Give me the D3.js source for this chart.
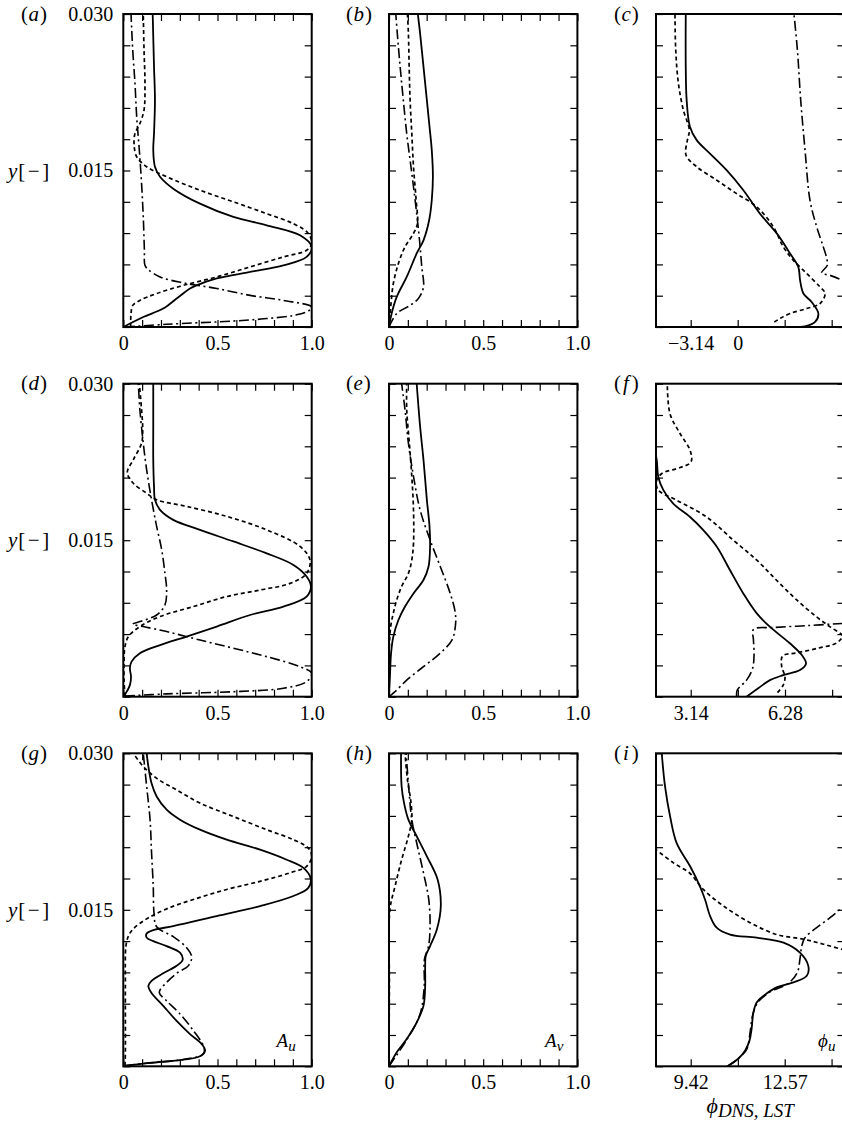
<!DOCTYPE html>
<html>
<head>
<meta charset="utf-8">
<script src="https://cdn.jsdelivr.net/npm/d3@7"></script>
<style>
  body { margin: 0; background: #fff; }
  svg text { font-family: "Liberation Serif", "Times New Roman", serif; fill: #000; }
</style>
</head>
<body>
<div id="chart"></div>
<script>
// profiles: [x, y]  (y in m, 0 .. 0.030)
// solid = DNS, dotted / dash-dot = LST variants

// (a)
const aSolid = [[0,0],[0.106,0.00096],[0.212,0.00177],[0.283,0.00273],[0.354,0.00369],[0.389,0.00399],[0.496,0.00465],[0.673,0.00528],[0.85,0.00591],[0.973,0.00672],[1.0,0.00768],[0.938,0.00879],[0.761,0.00975],[0.584,0.01056],[0.407,0.01182],[0.265,0.01326],[0.195,0.0144],[0.168,0.01536],[0.159,0.01695],[0.163,0.01854],[0.168,0.02175],[0.163,0.02496],[0.156,0.03]];
const aDotted = [[0.039,0],[0.041,0.00129],[0.05,0.00207],[0.088,0.00255],[0.177,0.00321],[0.319,0.00399],[0.496,0.0048],[0.673,0.00576],[0.85,0.00672],[0.973,0.00735],[1.0,0.00801],[0.982,0.00897],[0.903,0.0099],[0.761,0.01086],[0.584,0.012],[0.407,0.01311],[0.23,0.0144],[0.124,0.01536],[0.071,0.01632],[0.057,0.01758],[0.062,0.01854],[0.088,0.0195],[0.11,0.02079],[0.115,0.02334],[0.11,0.02655],[0.106,0.03]];
const aDashDot = [[0.009,0],[0.23,0.00026],[0.584,0.00057],[0.761,0.00081],[0.903,0.00111],[0.982,0.00153],[1.0,0.00192],[0.85,0.00255],[0.673,0.00303],[0.496,0.00369],[0.319,0.00423],[0.195,0.0048],[0.133,0.00549],[0.115,0.00591],[0.112,0.00735],[0.106,0.01056],[0.097,0.01374],[0.085,0.01695],[0.071,0.02016],[0.062,0.02334],[0.05,0.02655],[0.041,0.03]];

// (b)
const bSolid = [[0,0],[0.014,0.00129],[0.041,0.00288],[0.094,0.0048],[0.147,0.00705],[0.183,0.00831],[0.213,0.01023],[0.227,0.01215],[0.233,0.0144],[0.227,0.01695],[0.215,0.0192],[0.201,0.02175],[0.183,0.02496],[0.165,0.02814],[0.153,0.03]];
const bDotted = [[0,0],[0.009,0.00192],[0.023,0.00417],[0.05,0.00609],[0.085,0.00768],[0.13,0.00897],[0.151,0.0099],[0.144,0.01215],[0.13,0.01536],[0.121,0.01854],[0.112,0.02175],[0.107,0.02496],[0.103,0.02814],[0.098,0.03]];
const bDashDot = [[0,0],[0.041,0.00129],[0.112,0.00207],[0.156,0.00273],[0.183,0.00384],[0.174,0.00576],[0.162,0.00831],[0.147,0.01086],[0.13,0.01344],[0.112,0.01599],[0.094,0.01854],[0.076,0.02175],[0.059,0.02496],[0.044,0.02814],[0.036,0.03]];

// (c)
const cSolid = [[3.27,0],[4.5,0.00006],[5.17,0.00048],[5.39,0.00129],[4.94,0.0024],[4.39,0.00321],[4.17,0.00447],[4.05,0.00576],[3.5,0.00705],[2.61,0.00897],[1.49,0.01086],[0.38,0.01311],[-0.74,0.01503],[-1.85,0.01662],[-2.74,0.01791],[-3.19,0.0192],[-3.41,0.02175],[-3.47,0.02496],[-3.47,0.03]];
const cDotted = [[2.45,0.00048],[2.83,0.00081],[3.5,0.00129],[4.61,0.00177],[5.5,0.00225],[5.84,0.00321],[5.5,0.00384],[4.61,0.00513],[3.72,0.00639],[3.05,0.00768],[2.38,0.0096],[1.27,0.01152],[-0.07,0.01278],[-1.4,0.01407],[-2.74,0.01536],[-3.45,0.01647],[-3.36,0.01791],[-3.23,0.01887],[-3.63,0.02079],[-3.96,0.02334],[-4.14,0.02655],[-4.19,0.03]];
const cDashDot = [[7.95,0.00384],[7.1,0.00441],[6.17,0.00495],[5.61,0.00519],[5.99,0.00591],[5.95,0.00657],[5.72,0.00768],[5.28,0.0096],[4.83,0.01215],[4.5,0.01695],[4.21,0.02175],[3.99,0.02655],[3.76,0.03]];

// (d)
const dSolid = [[0.004,0.00006],[0.018,0.00048],[0.035,0.00111],[0.041,0.00192],[0.035,0.00273],[0.044,0.00336],[0.088,0.00417],[0.195,0.00495],[0.336,0.00576],[0.496,0.00672],[0.673,0.00783],[0.85,0.00864],[0.973,0.0096],[0.996,0.01056],[0.973,0.01152],[0.903,0.01263],[0.761,0.01374],[0.584,0.01488],[0.407,0.01599],[0.265,0.01695],[0.195,0.01791],[0.168,0.01887],[0.163,0.02016],[0.159,0.02271],[0.159,0.02592],[0.159,0.03]];
const dDotted = [[0.009,0.00006],[0.004,0.00159],[0.004,0.00351],[0.009,0.0048],[0.027,0.00576],[0.088,0.00672],[0.195,0.00768],[0.372,0.00864],[0.549,0.0096],[0.726,0.01023],[0.885,0.01086],[0.973,0.01182],[0.991,0.01311],[0.938,0.0144],[0.761,0.01599],[0.549,0.01728],[0.336,0.01824],[0.177,0.01887],[0.124,0.0195],[0.053,0.02046],[0.021,0.02148],[0.053,0.02271],[0.097,0.0243],[0.103,0.02559],[0.097,0.02751],[0.085,0.03]];
const dDashDot = [[0.009,0.00006],[0.23,0.00027],[0.584,0.00048],[0.85,0.00081],[0.973,0.00144],[1.0,0.00225],[0.938,0.00288],[0.761,0.00384],[0.584,0.00465],[0.407,0.00543],[0.23,0.00624],[0.106,0.00672],[0.05,0.00696],[0.088,0.0072],[0.177,0.00783],[0.221,0.00879],[0.23,0.01023],[0.221,0.01182],[0.204,0.01407],[0.177,0.01632],[0.15,0.01887],[0.124,0.02175],[0.106,0.0243],[0.088,0.02751],[0.08,0.03]];

// (e)
const eSolid = [[0,0],[0.005,0.00192],[0.011,0.00417],[0.023,0.00576],[0.05,0.00735],[0.085,0.00864],[0.13,0.0099],[0.183,0.01119],[0.21,0.01248],[0.218,0.0144],[0.215,0.01632],[0.201,0.01887],[0.183,0.02271],[0.165,0.02592],[0.147,0.03]];
const eDotted = [[0,0],[0.002,0.0048],[0.009,0.00672],[0.023,0.00801],[0.041,0.00927],[0.067,0.01056],[0.103,0.01182],[0.121,0.01311],[0.13,0.0147],[0.13,0.01791],[0.121,0.02112],[0.108,0.0243],[0.094,0.02751],[0.094,0.03]];
const eDashDot = [[0,0],[0.032,0.00048],[0.094,0.00159],[0.183,0.00288],[0.272,0.00417],[0.334,0.00543],[0.352,0.00672],[0.352,0.00801],[0.325,0.0099],[0.272,0.01248],[0.218,0.01503],[0.165,0.01791],[0.13,0.02112],[0.103,0.0243],[0.085,0.02751],[0.067,0.03]];

// (f)
const fSolid = [[5.0,0],[5.39,0.00081],[5.78,0.00159],[6.22,0.00207],[6.78,0.00255],[6.98,0.00318],[6.84,0.00399],[6.45,0.0051],[5.78,0.00669],[5.34,0.00798],[4.89,0.0099],[4.45,0.01212],[4.01,0.01437],[3.56,0.01596],[3.12,0.01722],[2.56,0.01851],[2.23,0.0198],[2.06,0.02106],[2.01,0.02265],[1.9,0.02427]];
const fDotted = [[6.03,0.00039],[6.22,0.00111],[6.28,0.00192],[6.17,0.00288],[6.2,0.0039],[6.67,0.0042],[7.33,0.00462],[8.0,0.00516],[8.19,0.00582],[7.78,0.00669],[7.33,0.00765],[6.67,0.00927],[6.0,0.01116],[5.34,0.01308],[4.56,0.015],[3.67,0.01722],[2.67,0.01884],[2.06,0.0198],[2.0,0.02067],[2.18,0.02139],[2.79,0.02196],[3.15,0.0225],[3.12,0.02361],[2.79,0.0252],[2.45,0.02712],[2.36,0.03]];
const fDashDot = [[4.67,0.00006],[4.69,0.00063],[5.0,0.00159],[5.2,0.0027],[5.25,0.00414],[5.23,0.00543],[5.23,0.00645],[5.89,0.00663],[7.0,0.00681],[8.19,0.00702],[8.67,0.00711]];

// (g)
const gSolid = [[0.009,0.00006],[0.142,0.00033],[0.319,0.00063],[0.407,0.00096],[0.434,0.0015],[0.416,0.00213],[0.354,0.00309],[0.283,0.00435],[0.212,0.00579],[0.15,0.00702],[0.133,0.00771],[0.15,0.00819],[0.212,0.00891],[0.283,0.00963],[0.315,0.0102],[0.301,0.01089],[0.23,0.01152],[0.159,0.012],[0.124,0.01233],[0.124,0.01272],[0.159,0.01305],[0.265,0.01344],[0.496,0.0144],[0.726,0.01536],[0.903,0.01632],[0.982,0.0171],[0.995,0.01797],[0.956,0.01902],[0.867,0.0198],[0.726,0.02076],[0.549,0.02172],[0.407,0.02268],[0.301,0.02364],[0.23,0.0246],[0.177,0.02586],[0.15,0.02712],[0.133,0.02874],[0.124,0.03]];
const gDotted = [[0.009,0.00006],[0.011,0.00135],[0.011,0.00771],[0.014,0.01152],[0.027,0.01248],[0.053,0.01317],[0.124,0.01413],[0.23,0.01509],[0.372,0.01599],[0.549,0.01695],[0.726,0.01773],[0.885,0.01854],[0.973,0.01917],[1.0,0.02013],[0.982,0.02091],[0.903,0.02172],[0.761,0.02268],[0.584,0.02394],[0.407,0.02523],[0.283,0.02649],[0.177,0.0276],[0.106,0.02874],[0.053,0.03]];
const gDashDot = [[0.009,0.00006],[0.142,0.00033],[0.319,0.00066],[0.425,0.00117],[0.428,0.00183],[0.372,0.00342],[0.301,0.00501],[0.23,0.00627],[0.191,0.00708],[0.23,0.00804],[0.283,0.00891],[0.345,0.00963],[0.363,0.0105],[0.336,0.01137],[0.265,0.01242],[0.177,0.01338],[0.163,0.0147],[0.159,0.01725],[0.15,0.02046],[0.142,0.02364],[0.124,0.02682],[0.106,0.03]];

// (h)
const hSolid = [[0,0],[0.041,0.00135],[0.094,0.00261],[0.147,0.0042],[0.183,0.00579],[0.192,0.00771],[0.192,0.00963],[0.195,0.01056],[0.218,0.01152],[0.254,0.01311],[0.275,0.01536],[0.258,0.01791],[0.201,0.02013],[0.147,0.02205],[0.103,0.02364],[0.08,0.02523],[0.067,0.02682],[0.064,0.03]];
const hDotted = [[0,0],[0.002,0.00771],[0.005,0.01503],[0.032,0.01725],[0.067,0.0198],[0.103,0.02205],[0.121,0.02364],[0.115,0.02553],[0.098,0.02745],[0.085,0.03]];
const hDashDot = [[0,0],[0.094,0.00255],[0.165,0.00501],[0.187,0.00771],[0.188,0.01026],[0.21,0.01152],[0.218,0.01344],[0.211,0.01599],[0.183,0.01854],[0.151,0.02109],[0.121,0.02364],[0.107,0.02619],[0.091,0.03]];

// (i)
const iSolid = [[10.65,0],[11.02,0.00075],[11.24,0.0015],[11.39,0.00246],[11.46,0.00357],[11.52,0.00516],[11.63,0.00612],[11.86,0.00675],[12.3,0.00756],[12.86,0.00804],[13.31,0.00867],[13.36,0.00963],[13.08,0.01089],[12.53,0.01185],[11.63,0.01233],[10.74,0.01263],[10.29,0.01329],[10.07,0.0144],[9.9,0.01599],[9.73,0.01725],[9.4,0.01917],[8.95,0.02139],[8.73,0.02394],[8.56,0.02682],[8.45,0.03]];
const iDotted = [[8.2,0.0209],[8.26,0.02076],[8.84,0.0195],[9.4,0.01848],[9.84,0.01695],[10.52,0.01536],[11.41,0.01377],[12.3,0.01263],[13.2,0.01218],[13.87,0.0117],[14.56,0.01116],[14.98,0.01089]];
const iDashDot = [[10.65,0],[11.02,0.00075],[11.3,0.00165],[11.41,0.00324],[11.49,0.00483],[11.67,0.00612],[12.08,0.00714],[12.69,0.00795],[12.99,0.00897],[13.08,0.01026],[13.14,0.01152],[13.25,0.01233],[13.64,0.01329],[14.09,0.01425],[14.56,0.01536],[14.98,0.01632]];

// axes
const yTicks = d3.range(0, 11).map(k => k * 0.003);
const yLabelValues = [0.015, 0.030];
const yLabels = ['0.015', '0.030'];
const ampTicks = d3.range(0, 11).map(k => k / 10);
const ampLabelValues = [0, 0.5, 1.0];
const ampLabels = ['0', '0.5', '1.0'];
const cTicks = [-3.14, 0, 3.14, 6.28];
const cTickLabels = ['\u22123.14', '0', '', ''];
const fTicks = [3.14, 4.71, 6.28, 7.85];
const fTickLabels = ['3.14', '', '6.28', ''];
const iTicks = [9.42, 11.0, 12.57, 14.14];
const iTickLabels = ['9.42', '', '12.57', ''];
const cDomain = [-5.458, 7.13];
const fDomain = [1.984, 8.258];
const iDomain = [8.257, 14.57];

const panelIds = ['a', 'b', 'c', 'd', 'e', 'f', 'g', 'h', 'i'];
const panelLines = [
  [aSolid, aDotted, aDashDot], [bSolid, bDotted, bDashDot], [cSolid, cDotted, cDashDot],
  [dSolid, dDotted, dDashDot], [eSolid, eDotted, eDashDot], [fSolid, fDotted, fDashDot],
  [gSolid, gDotted, gDashDot], [hSolid, hDotted, hDashDot], [iSolid, iDotted, iDashDot]
];
const phaseAxes = [
  { domain: cDomain, ticks: cTicks, labels: cTickLabels },
  { domain: fDomain, ticks: fTicks, labels: fTickLabels },
  { domain: iDomain, ticks: iTicks, labels: iTickLabels }
];
const tagNames = [['A', 'u'], ['A', 'v'], ['\u03d5', 'u']];

// layout
const W = 842, H = 1129;
const colLeft = [123.3, 389, 656];
const rowTop = [14, 383.7, 753.3];
const pw = 188.4, ph = 313;
const tickLen = 7;
const fs = 20;
const lineStyles = [
  { width: 1.8, dash: null },
  { width: 1.7, dash: '4,3' },
  { width: 1.6, dash: '10,3.5,2,3.5' }
];
const labelX = [21, 346, 614];

const svg = d3.select('#chart').append('svg')
  .attr('width', W)
  .attr('height', H);

const defs = svg.append('defs');
const near = (a, b) => Math.abs(a - b) < 1e-9;

const styleAxis = sel => {
  sel.attr('font-size', null).attr('font-family', null);
  sel.select('.domain').remove();
  sel.selectAll('.tick line').attr('stroke', '#000').attr('stroke-width', 1.2);
  sel.selectAll('.tick text').attr('font-size', fs).attr('fill', '#000');
};

panelIds.forEach((id, idx) => {
  const row = Math.floor(idx / 3), col = idx % 3;
  const isPhase = col === 2;
  const phAx = phaseAxes[row];

  const x = d3.scaleLinear()
    .domain(isPhase ? phAx.domain : [0, 1])
    .range([0, pw]);
  const y = d3.scaleLinear().domain([0, 0.03]).range([ph, 0]);

  const g = svg.append('g')
    .attr('transform', `translate(${colLeft[col]},${rowTop[row]})`);

  defs.append('clipPath').attr('id', 'clip-' + id)
    .append('rect').attr('width', pw).attr('height', ph);

  // left ticks (labels only in first column)
  g.append('g')
    .call(d3.axisLeft(y).tickValues(yTicks).tickSize(-tickLen).tickPadding(10)
      .tickFormat(v => {
        if (col !== 0) return '';
        const k = yLabelValues.findIndex(t => near(t, v));
        return k >= 0 ? yLabels[k] : '';
      }))
    .call(styleAxis);

  // right ticks
  g.append('g').attr('transform', `translate(${pw},0)`)
    .call(d3.axisRight(y).tickValues(yTicks).tickSize(-tickLen).tickFormat(''))
    .call(styleAxis);

  // bottom ticks + labels
  const bottom = isPhase
    ? d3.axisBottom(x).tickValues(phAx.ticks).tickFormat((v, k) => phAx.labels[k])
    : d3.axisBottom(x).tickValues(ampTicks).tickFormat(v => {
        const k = ampLabelValues.findIndex(t => near(t, v));
        return k >= 0 ? ampLabels[k] : '';
      });
  g.append('g').attr('transform', `translate(0,${ph})`)
    .call(bottom.tickSize(-tickLen).tickPadding(8.8))
    .call(styleAxis);

  // top ticks (amplitude panels only)
  if (!isPhase) {
    g.append('g')
      .call(d3.axisTop(x).tickValues(ampTicks).tickSize(-tickLen).tickFormat(''))
      .call(styleAxis);
  }

  // curves
  const line = d3.line()
    .x(d => x(d[0]))
    .y(d => y(d[1]))
    .curve(d3.curveCatmullRom.alpha(0.5));

  const plot = g.append('g').attr('clip-path', `url(#clip-${id})`);
  panelLines[idx].forEach((data, k) => {
    plot.append('path')
      .datum(data)
      .attr('d', line)
      .attr('fill', 'none')
      .attr('stroke', '#000')
      .attr('stroke-width', lineStyles[k].width)
      .attr('stroke-dasharray', lineStyles[k].dash)
      .attr('stroke-linejoin', 'round');
  });

  // frame
  g.append('rect')
    .attr('width', pw).attr('height', ph)
    .attr('fill', 'none').attr('stroke', '#000').attr('stroke-width', 2);

  // panel label
  const lab = svg.append('text')
    .attr('x', labelX[col]).attr('y', rowTop[row] + 6.5)
    .attr('font-size', 21);
  lab.append('tspan').text('(');
  lab.append('tspan').attr('font-style', 'italic').attr('dx', id === 'f' || id === 'i' ? 2 : 0.5).text(id);
  lab.append('tspan').attr('dx', id === 'f' || id === 'i' ? 3 : 1).text(')');

  // y axis name
  if (col === 0) {
    const yl = svg.append('text')
      .attr('x', 8).attr('y', rowTop[row] + y(0.015) + 7)
      .attr('font-size', 21);
    yl.append('tspan').attr('font-style', 'italic').text('y');
    yl.append('tspan').attr('dx', 1).attr('letter-spacing', 2.5).text('[\u2212]');
  }

  // quantity tags in bottom row
  if (row === 2) {
    const endPad = [16, 14, 9];
    const t = g.append('text')
      .attr('x', pw - endPad[col]).attr('y', ph - 19)
      .attr('text-anchor', 'end')
      .attr('font-size', 19)
      .attr('font-style', 'italic');
    t.append('tspan').text(tagNames[col][0]);
    t.append('tspan').attr('dy', 4).attr('font-size', 15).text(tagNames[col][1]);
  }
});

// bottom axis title under (i)
const xt = svg.append('text')
  .attr('x', colLeft[2] + pw / 2).attr('y', rowTop[2] + ph + 47)
  .attr('text-anchor', 'middle')
  .attr('font-size', 22)
  .attr('font-style', 'italic');
xt.append('tspan').text('\u03d5');
xt.append('tspan').attr('dy', 4).attr('font-size', 19).text('DNS, LST');
</script>
</body>
</html>
